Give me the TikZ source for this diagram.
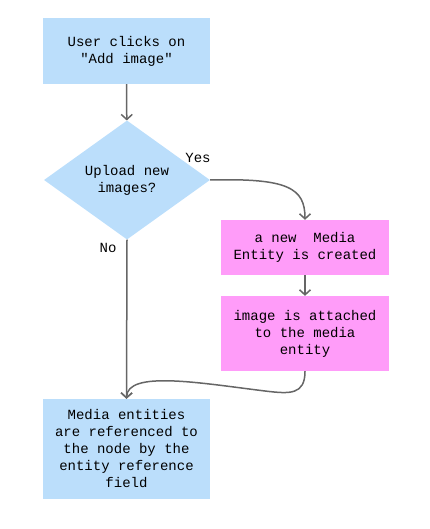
\documentclass[tikz,border=0pt]{standalone}
\usepackage{fontspec}
\setmonofont{Liberation Mono}
\usetikzlibrary{shapes.geometric,arrows.meta}
\definecolor{stepblue}{HTML}{BBDEFB}
\definecolor{steppink}{HTML}{FF9CF9}
\definecolor{linegray}{HTML}{666666}

\tikzset{
  bluebox/.style={rectangle,fill=stepblue,inner sep=0pt,align=center},
  pinkbox/.style={rectangle,fill=steppink,inner sep=0pt,align=center},
  choice/.style={diamond,fill=stepblue,inner sep=0pt,align=center},
  flow/.style={draw=linegray,line width=1.5pt,-{Straight Barb[length=5pt,width=11pt]}},
  lbl/.style={inner sep=0pt}
}

\begin{document}
\begin{tikzpicture}[x=1pt,y=-1pt,font=\ttfamily\fontsize{14}{17}\selectfont]
\useasboundingbox (0,0) rectangle (429,529);
% left column
\node[bluebox,minimum width=167pt,minimum height=66pt] (start) at (126.5,51) {User clicks on\\"Add image"};
\node[choice,minimum width=166pt,minimum height=119pt] (upload) at (127,180) {Upload new\\images?};
\node[bluebox,minimum width=167pt,minimum height=100pt] (ref) at (126.5,449) {Media entities\\are referenced to\\the node by the\\entity reference\\field};
% right column
\node[pinkbox,minimum width=168pt,minimum height=55pt] (create) at (305,247.5) {a new\ \ Media\\Entity is created};
\node[pinkbox,minimum width=168pt,minimum height=75pt] (attach) at (305,333.5) {image is attached\\to the media\\entity};
% labels
\node[lbl] (yes) at (198,158) {Yes};
\node[lbl] (no) at (108,248) {No};
% connectors
\draw[flow] (start) -- (upload);
\draw[flow] (upload.east) .. controls (288,178) and (305,188) .. (create.north);
\draw[flow] (create) -- (attach);
\draw[flow] (upload.south) -- (ref.north);
\draw[flow] (attach.south) .. controls (305,395) and (290,394) .. (265,391)
  .. controls (200,383) and (127,370) .. (ref.north);
\end{tikzpicture}
\end{document}
